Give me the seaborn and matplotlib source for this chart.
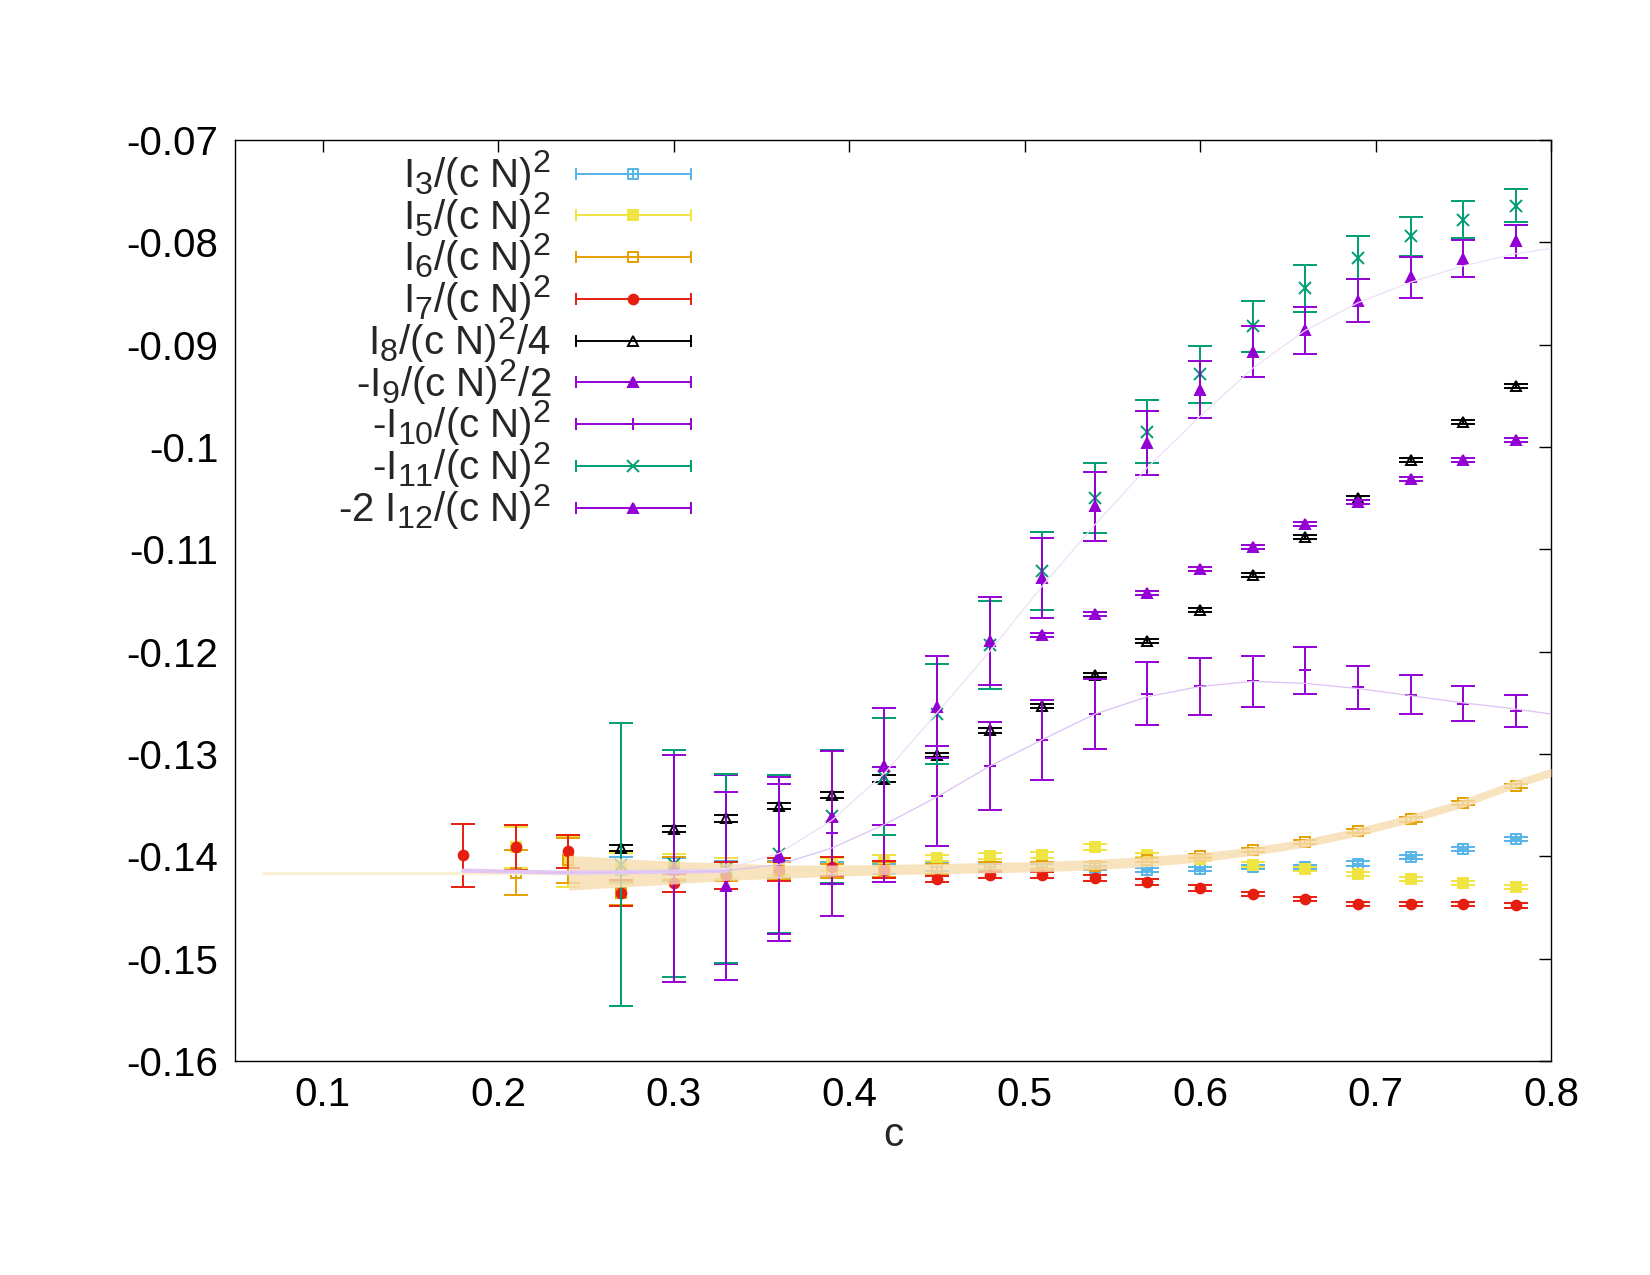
import numpy as np
import pandas as pd
import matplotlib
matplotlib.use("Agg")
import matplotlib.pyplot as plt
import seaborn as sns
from matplotlib.lines import Line2D
from matplotlib.path import Path
from matplotlib.legend_handler import HandlerLine2D
from matplotlib.ticker import FuncFormatter, MultipleLocator

try:
    import matplotlib._mathtext as _mt
    _mt.SHRINK_FACTOR = 0.8
except Exception:
    pass

# ---------------- data ----------------
c_I3 = [0.27, 0.30, 0.33, 0.36, 0.39, 0.42, 0.45, 0.48, 0.51, 0.54, 0.57, 0.60, 0.63, 0.66, 0.69, 0.72, 0.75, 0.78]
v_I3 = [-0.1413, -0.1413, -0.1414, -0.1413, -0.1413, -0.1412, -0.1410, -0.1410, -0.1410, -0.1411, -0.1413, -0.1412,
        -0.1410, -0.1410, -0.1407, -0.1401, -0.1393, -0.1383]
e_I3 = [0.0012, 0.0011, 0.0009, 0.0008, 0.0007, 0.0005, 0.0004, 0.0003, 0.0003, 0.0002, 0.0002, 0.0002,
        0.0002, 0.0002, 0.0002, 0.0002, 0.0002, 0.0002]

c_I5 = [0.21, 0.24, 0.27, 0.30, 0.33, 0.36, 0.39, 0.42, 0.45, 0.48, 0.51, 0.54, 0.57, 0.60, 0.63, 0.66, 0.69, 0.72, 0.75, 0.78]
v_I5 = [-0.1391, -0.1405, -0.1412, -0.1410, -0.1412, -0.1410, -0.1408, -0.1404, -0.1402, -0.1400, -0.1399, -0.1391,
        -0.1399, -0.1403, -0.1408, -0.1412, -0.1417, -0.1422, -0.1426, -0.1430]
e_I5 = [0.0020, 0.0025, 0.0015, 0.0012, 0.0010, 0.0008, 0.0006, 0.0005, 0.0003, 0.0003, 0.0003, 0.0003,
        0.0002, 0.0002, 0.0002, 0.0002, 0.0002, 0.0002, 0.0002, 0.0002]

c_I6 = [0.21, 0.24, 0.27, 0.30, 0.33, 0.36, 0.39, 0.42, 0.45, 0.48, 0.51, 0.54, 0.57, 0.60, 0.63, 0.66, 0.69, 0.72, 0.75, 0.78]
v_I6 = [-0.1416, -0.1404, -0.1436, -0.1412, -0.1415, -0.1414, -0.1414, -0.1413, -0.1412, -0.1410, -0.1409, -0.1409,
        -0.1404, -0.1400, -0.1394, -0.1386, -0.1375, -0.1364, -0.1348, -0.1331]
e_I6 = [0.0022, 0.0022, 0.0012, 0.0011, 0.0009, 0.0008, 0.0007, 0.0007, 0.0005, 0.0004, 0.0003, 0.0003,
        0.0002, 0.0002, 0.0002, 0.0002, 0.0002, 0.0002, 0.0002, 0.0002]

c_I7 = [0.18, 0.21, 0.24, 0.27, 0.30, 0.33, 0.36, 0.39, 0.42, 0.45, 0.48, 0.51, 0.54, 0.57, 0.60, 0.63, 0.66, 0.69, 0.72, 0.75, 0.78]
v_I7 = [-0.1399, -0.1391, -0.1395, -0.1436, -0.1426, -0.1419, -0.1413, -0.1410, -0.1413, -0.1422, -0.1418, -0.1418,
        -0.1421, -0.1425, -0.1431, -0.1437, -0.1442, -0.1447, -0.1447, -0.1447, -0.1448]
e_I7 = [0.0031, 0.0022, 0.0016, 0.0013, 0.0009, 0.0013, 0.0011, 0.0009, 0.0008, 0.0003, 0.0003, 0.0003,
        0.0003, 0.0003, 0.0003, 0.0002, 0.0002, 0.0002, 0.0002, 0.0002, 0.0002]

c_I8 = [0.27, 0.30, 0.33, 0.36, 0.39, 0.42, 0.45, 0.48, 0.51, 0.54, 0.57, 0.60, 0.63, 0.66, 0.69, 0.72, 0.75, 0.78]
v_I8 = [-0.1392, -0.1373, -0.1363, -0.1351, -0.1340, -0.1324, -0.1301, -0.1277, -0.1253, -0.1223, -0.1190, -0.1159,
        -0.1125, -0.1088, -0.1050, -0.1013, -0.0976, -0.0940]
e_I8 = [0.0003, 0.0003, 0.0003, 0.0003, 0.0003, 0.0003, 0.0002, 0.0002, 0.0002, 0.0002, 0.0002, 0.0002,
        0.0002, 0.0002, 0.0002, 0.0002, 0.0002, 0.0002]

c_I9 = [0.51, 0.54, 0.57, 0.60, 0.63, 0.66, 0.69, 0.72, 0.75, 0.78]
v_I9 = [-0.1184, -0.1163, -0.1143, -0.1119, -0.1098, -0.1075, -0.1054, -0.1031, -0.1013, -0.0993]
e_I9 = [0.0002, 0.0002, 0.0002, 0.0002, 0.0002, 0.0002, 0.0002, 0.0002, 0.0002, 0.0002]

c_I10 = [0.33, 0.36, 0.39, 0.42, 0.45, 0.48, 0.51, 0.54, 0.57, 0.60, 0.63, 0.66, 0.69, 0.72, 0.75, 0.78]
v_I10 = [-0.1413, -0.1406, -0.1377, -0.1369, -0.1341, -0.1312, -0.1286, -0.1261, -0.1241, -0.1234, -0.1229, -0.1218,
         -0.1235, -0.1242, -0.1251, -0.1258]
e_I10 = [0.0092, 0.0077, 0.0081, 0.0056, 0.0049, 0.0043, 0.0039, 0.0034, 0.0031, 0.0028, 0.0025, 0.0023,
         0.0021, 0.0019, 0.0017, 0.0016]

c_I11 = [0.27, 0.30, 0.33, 0.36, 0.39, 0.42, 0.45, 0.48, 0.51, 0.54, 0.57, 0.60, 0.63, 0.66, 0.69, 0.72, 0.75, 0.78]
v_I11 = [-0.1408, -0.1407, -0.1412, -0.1398, -0.1361, -0.1322, -0.1261, -0.1193, -0.1121, -0.1050, -0.0985, -0.0929,
         -0.0882, -0.0845, -0.0815, -0.0794, -0.0778, -0.0764]
e_I11 = [0.0138, 0.0111, 0.0092, 0.0077, 0.0065, 0.0057, 0.0049, 0.0043, 0.0038, 0.0034, 0.0031, 0.0028,
         0.0025, 0.0023, 0.0021, 0.0019, 0.0018, 0.0016]

c_I12 = [0.30, 0.33, 0.36, 0.39, 0.42, 0.45, 0.48, 0.51, 0.54, 0.57, 0.60, 0.63, 0.66, 0.69, 0.72, 0.75, 0.78]
v_I12 = [-0.1412, -0.1429, -0.1399, -0.1362, -0.1312, -0.1254, -0.1190, -0.1128, -0.1058, -0.0996, -0.0944, -0.0907,
         -0.0886, -0.0857, -0.0834, -0.0816, -0.0799]
e_I12 = [0.0111, 0.0092, 0.0077, 0.0065, 0.0057, 0.0050, 0.0043, 0.0039, 0.0034, 0.0031, 0.0028, 0.0025,
         0.0023, 0.0021, 0.0020, 0.0018, 0.0016]

# fit curves
fitA_x = [0.18, 0.24, 0.30, 0.33, 0.36, 0.39, 0.42, 0.45, 0.48, 0.51, 0.54, 0.57, 0.60, 0.63, 0.66, 0.69, 0.72, 0.75, 0.78, 0.80]
fitA_y = [-0.1414, -0.1416, -0.1415, -0.1412, -0.1397, -0.1365, -0.1319, -0.1260, -0.1200, -0.1136, -0.1076, -0.1020,
          -0.0970, -0.0923, -0.0886, -0.0859, -0.0839, -0.0823, -0.0811, -0.0806]
fitB_x = [0.18, 0.24, 0.30, 0.33, 0.36, 0.39, 0.42, 0.45, 0.48, 0.51, 0.54, 0.57, 0.60, 0.63, 0.66, 0.69, 0.72, 0.75, 0.78, 0.80]
fitB_y = [-0.1414, -0.1416, -0.1415, -0.1414, -0.1408, -0.1392, -0.1369, -0.1342, -0.1312, -0.1286, -0.1261, -0.1244,
          -0.1234, -0.1229, -0.1231, -0.1236, -0.1243, -0.1250, -0.1256, -0.1261]
thick_x = [0.18, 0.24, 0.30, 0.33]
thick_y = [-0.1414, -0.1416, -0.1415, -0.1414]
band_x = [0.24, 0.27, 0.30, 0.33, 0.36, 0.39, 0.42, 0.45, 0.48, 0.51, 0.54, 0.57, 0.60, 0.63, 0.66, 0.69, 0.72, 0.75, 0.78, 0.80]
band_y = [-0.1416, -0.1416, -0.1416, -0.1415, -0.1415, -0.1414, -0.1413, -0.1412, -0.1411, -0.1410, -0.1408, -0.1405,
          -0.1401, -0.1395, -0.1387, -0.1376, -0.1363, -0.1348, -0.1329, -0.1318]
band_w = [0.0017, 0.0014, 0.0011, 0.00085, 0.00065, 0.00055, 0.0005, 0.0005, 0.0005, 0.0005, 0.0005, 0.0005,
          0.00045, 0.0004, 0.0004, 0.0004, 0.0004, 0.0004, 0.0004, 0.0004]
pale_x = [0.0667, 0.24]
pale_y = [-0.1416, -0.1416]

labels = [r"I$_3$/(c N)$^2$", r"I$_5$/(c N)$^2$", r"I$_6$/(c N)$^2$", r"I$_7$/(c N)$^2$",
          r"I$_8$/(c N)$^2$/4", r"-I$_9$/(c N)$^2$/2", r"-I$_{10}$/(c N)$^2$", r"-I$_{11}$/(c N)$^2$",
          r"-2 I$_{12}$/(c N)$^2$"]

# ---------------- style ----------------
sns.set_style("white")
plt.rcParams["font.family"] = ["Liberation Sans", "DejaVu Sans"]
plt.rcParams["mathtext.fontset"] = "custom"
plt.rcParams["mathtext.rm"] = "Liberation Sans"
plt.rcParams["mathtext.it"] = "Liberation Sans"
plt.rcParams["mathtext.default"] = "regular"
plt.rcParams["axes.unicode_minus"] = False

PURPLE = "#9400d3"
GREEN = "#009e73"
BLUE = "#56b4e9"
ORANGE = "#e69f00"
YELLOW = "#f0e442"
RED = "#e51e10"
BLACK = "#000000"

box_plus = Path([(-1, -1), (1, -1), (1, 1), (-1, 1), (-1, -1), (0, -1), (0, 1), (-1, 0), (1, 0)],
                [Path.MOVETO, Path.LINETO, Path.LINETO, Path.LINETO, Path.CLOSEPOLY,
                 Path.MOVETO, Path.LINETO, Path.MOVETO, Path.LINETO])

fig = plt.figure(figsize=(16.5, 12.75), dpi=100)
ax = fig.add_axes([0.14242, 0.16784, 0.79758, 0.72235])

series = [
    (c_I3, v_I3, e_I3, BLUE, box_plus, "none", 7.5),
    (c_I5, v_I5, e_I5, YELLOW, "s", YELLOW, 7),
    (c_I6, v_I6, e_I6, ORANGE, "s", "none", 7.5),
    (c_I7, v_I7, e_I7, RED, "o", RED, 7),
    (c_I8, v_I8, e_I8, BLACK, "^", "none", 7.5),
    (c_I9, v_I9, e_I9, PURPLE, "^", PURPLE, 7.5),
    (c_I10, v_I10, e_I10, PURPLE, "+", PURPLE, 9),
    (c_I11, v_I11, e_I11, GREEN, "x", GREEN, 9),
    (c_I12, v_I12, e_I12, PURPLE, "^", PURPLE, 7.5),
]

LW = 1.4
handles = []
hmap = {}
for i, (cx, vy, ey, col, mk, mfc, ms) in enumerate(series):
    ax.errorbar(cx, vy, yerr=ey, marker=mk, ls="none", color=col, mfc=mfc, mec=col, ms=ms, mew=LW,
                elinewidth=LW, capsize=8.5, capthick=LW, zorder=3 + i)
    cap = Line2D([], [], color=col, lw=LW, marker="|", ms=8, mew=LW)
    mkr = Line2D([], [], color=col, ls="none", marker=mk, ms=ms, mfc=mfc, mec=col, mew=LW)
    hmap[cap] = HandlerLine2D(numpoints=2, marker_pad=0)
    hmap[mkr] = HandlerLine2D(numpoints=1)
    handles.append((cap, mkr))

# fit band and curves
ax.fill_between(band_x, np.array(band_y) - np.array(band_w), np.array(band_y) + np.array(band_w),
                color="#f7dcb0", alpha=0.8, lw=0, zorder=13)
sns.lineplot(x=pale_x, y=pale_y, ax=ax, color="#faf1d2", lw=2.4, sort=False, estimator=None, zorder=12)
sns.lineplot(x=thick_x, y=thick_y, ax=ax, color="#e3c6f4", lw=3.0, sort=False, estimator=None, zorder=14)
sns.lineplot(x=fitA_x, y=fitA_y, ax=ax, color="#ece0f8", lw=0.9, sort=False, estimator=None, zorder=14)
sns.lineplot(x=fitB_x, y=fitB_y, ax=ax, color="#dcc2f2", lw=0.9, sort=False, estimator=None, zorder=14)

# axes
ax.set_xlim(0.05, 0.8)
ax.set_ylim(-0.16, -0.07)
ax.xaxis.set_major_locator(MultipleLocator(0.1))
ax.yaxis.set_major_locator(MultipleLocator(0.01))
fmt = FuncFormatter(lambda v, p: "%g" % round(v, 4))
ax.xaxis.set_major_formatter(fmt)
ax.yaxis.set_major_formatter(fmt)
ax.tick_params(axis="both", direction="in", length=8.6, width=1.0, top=True, right=True,
               labelsize=29, colors="black")
ax.tick_params(axis="y", pad=12)
ax.tick_params(axis="x", pad=10.5)
for s in ax.spines.values():
    s.set_linewidth(1.0)
    s.set_color("black")
    s.set_visible(True)
ax.set_xlabel("c", fontsize=29, labelpad=2)
ax.set_ylabel("")
ax.grid(False)

leg = ax.legend(handles, labels, handler_map=hmap, loc="upper right", bbox_to_anchor=(0.3463, 0.9913),
                markerfirst=False, frameon=False, fontsize=29, handlelength=2.85, handletextpad=0.62,
                labelspacing=-0.2, borderpad=0, borderaxespad=0)
leg.set_zorder(20)

fig.savefig("out.png", dpi=100)
